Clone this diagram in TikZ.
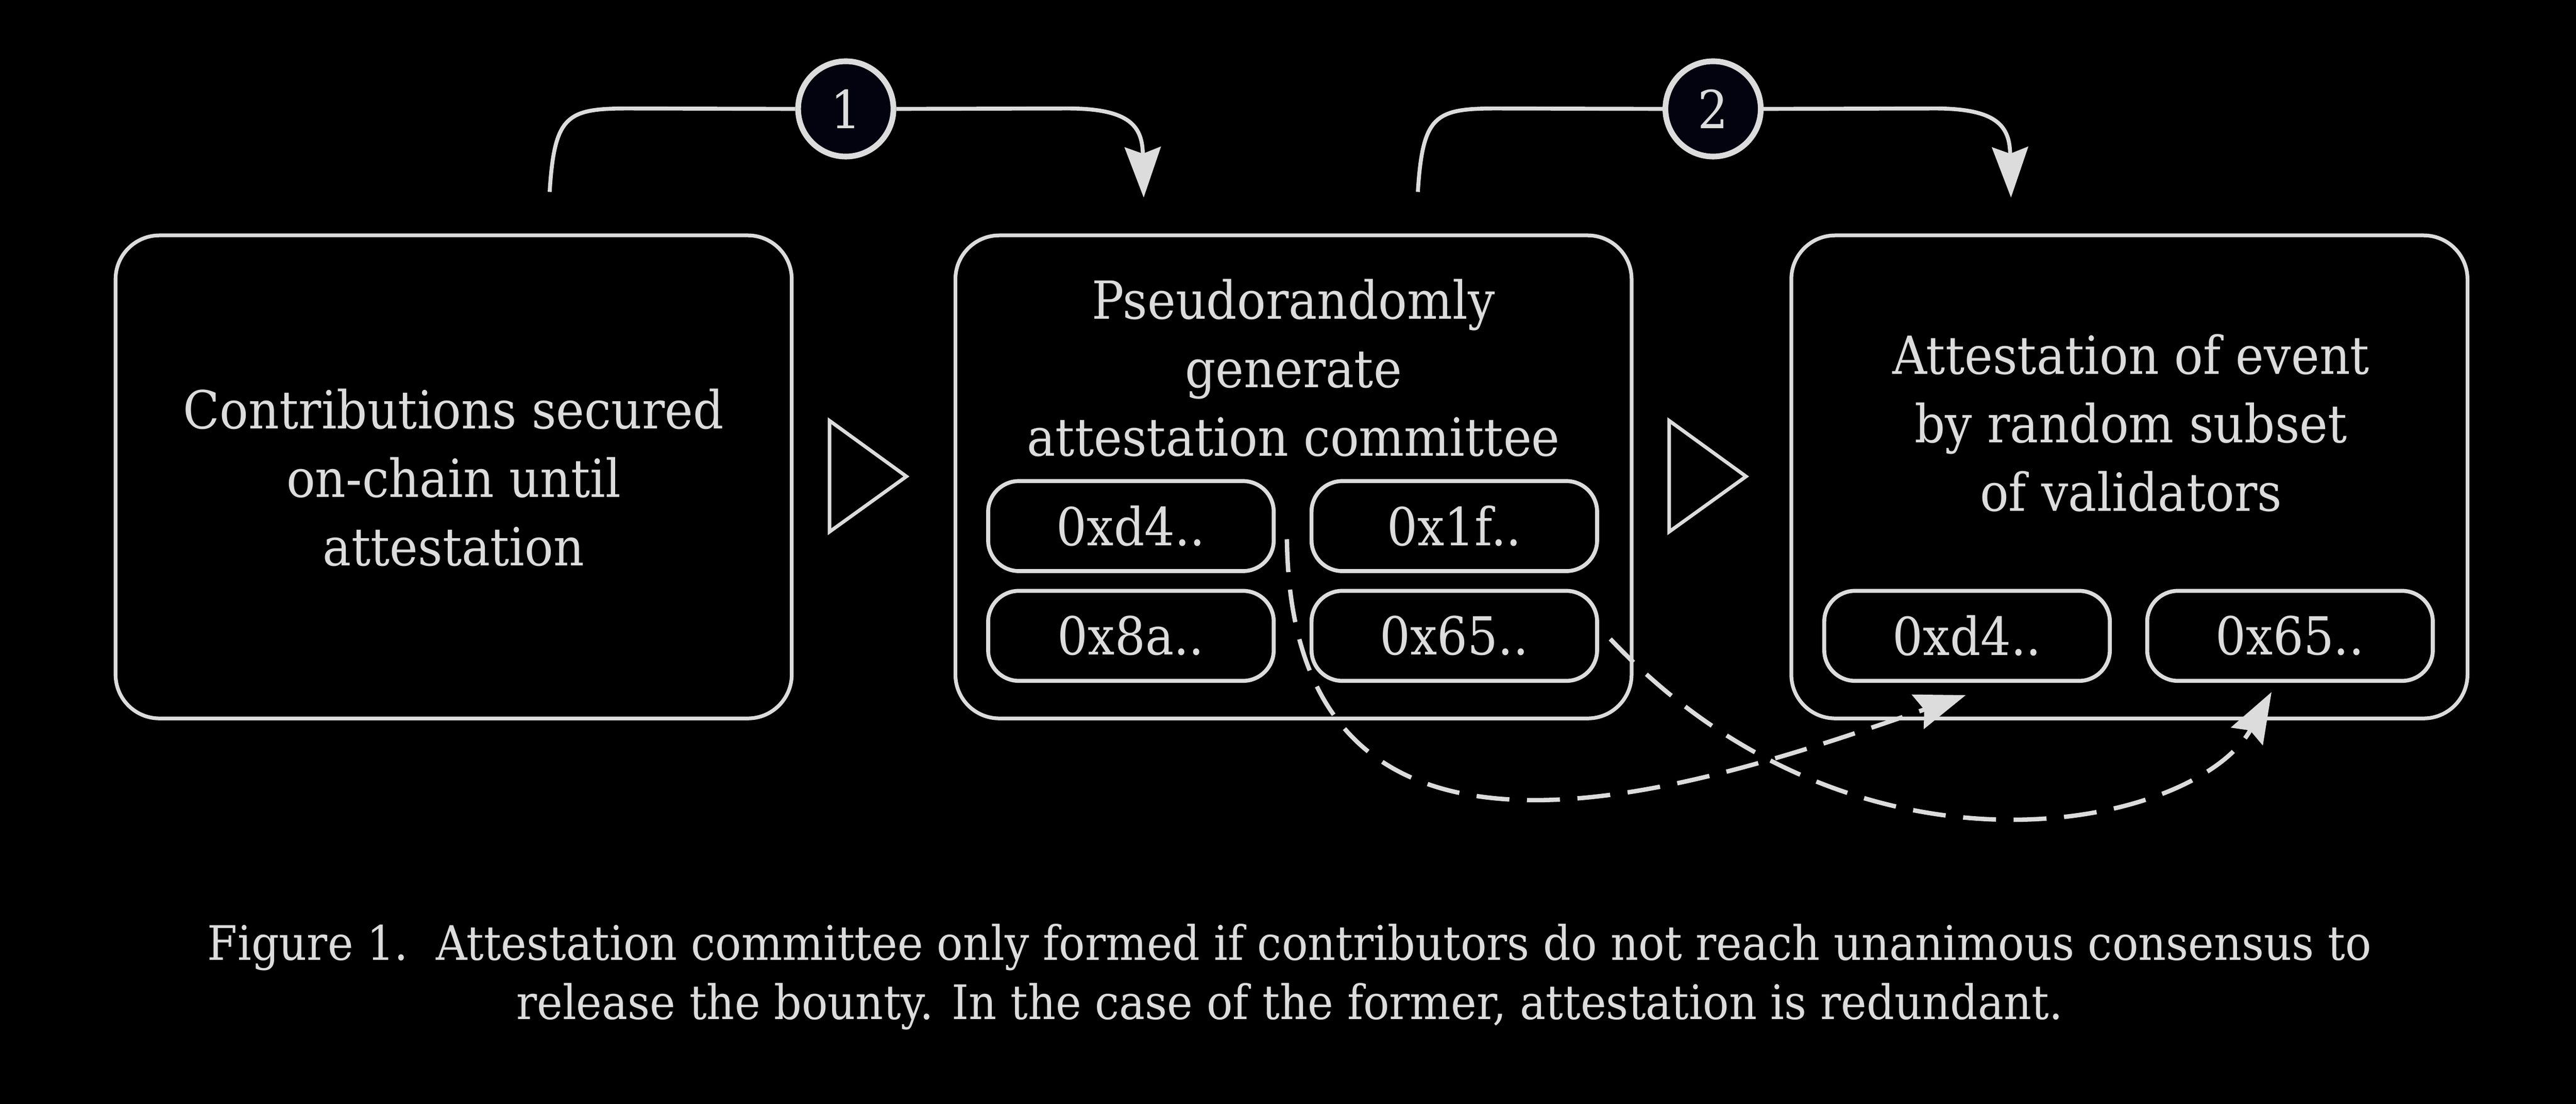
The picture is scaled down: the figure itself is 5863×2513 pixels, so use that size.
\documentclass[tikz,border=0pt]{standalone}
\usepackage{fontspec}
\setmainfont{DejaVu Serif}[FakeStretch=0.91]
\usetikzlibrary{arrows.meta}
\definecolor{fg}{HTML}{DCDCDC}
\definecolor{circfill}{HTML}{03030F}
\newcommand\diagfont{\fontsize{34}{44.4}\selectfont}
\newcommand\capfont{\fontsize{30.8}{38.4}\selectfont}
\tikzset{
 bigbox/.style={draw=fg, line width=0.85mm, rounded corners=10mm, minimum width=153.9mm, minimum height=110mm, inner sep=0pt},
 keybox/.style={draw=fg, line width=0.9mm, rounded corners=7mm, minimum width=65mm, minimum height=20.5mm, inner sep=0pt, text=fg, font=\diagfont},
 boxtext/.style={text=fg, align=center, font=\diagfont, inner sep=0pt},
 captext/.style={text=fg, align=center, font=\capfont, inner sep=0pt},
 stepnum/.style={circle, draw=fg, fill=circfill, line width=1.3mm, minimum size=21.7mm, inner sep=0pt, text=fg, font=\diagfont},
 tipshape/.style={-{Stealth[length=11.5mm,width=8.2mm,inset=1.5mm]}},
 flow/.style={draw=fg, line width=0.9mm},
 dashflow/.style={draw=fg, line width=1mm, dash pattern=on 7.5mm off 4mm},
 chevron/.style={draw=fg, line width=0.8mm, line join=miter},
}
\begin{document}
\begin{tikzpicture}[x=0.1mm,y=-0.1mm]
\useasboundingbox (0,0) rectangle (5863,2513);
\fill[black] (-40,-40) rectangle (5903,2553);

% main boxes
\node[bigbox] (A) at (1032.5,1086) {};
\node[bigbox] (B) at (2944,1086) {};
\node[bigbox] (C) at (4846.5,1086) {};

\node[boxtext] (tA) at (1032.5,1088) {Contributions secured\\on-chain until\\attestation};
\node[boxtext] (tB) at (2944,838) {Pseudorandomly\\generate\\attestation committee};
\node[boxtext] (tC) at (4850,963) {Attestation of event\\by random subset\\of validators};

% key boxes
\node[keybox] (b1) at (2574,1198) {0xd4..};
\node[keybox] (b2) at (3310,1198) {0x1f..};
\node[keybox] (b3) at (2574,1448) {0x8a..};
\node[keybox] (b4) at (3310,1448) {0x65..};
\node[keybox] (c1) at (4477,1448) {0xd4..};
\node[keybox] (c2) at (5212,1448) {0x65..};

% chevrons between boxes
\draw[chevron] (1888,958) -- (2063,1085) -- (1888,1211) -- cycle;
\draw[chevron] (3799,958) -- (3974,1085) -- (3799,1211) -- cycle;

% top step arrows
\coordinate (s1) at (1251,437);
\coordinate (e1) at (2603,450);
\coordinate (s2) at (3227,437);
\coordinate (e2) at (4577,450);
\node[stepnum] (n1) at (1925,248) {1};
\node[stepnum] (n2) at (3899,248) {2};
\draw[flow] (s1) .. controls (1262,262) and (1290,247) .. (1430,247) -- (n1.west);
\draw[flow,tipshape] (n1.east) -- (2430,247) .. controls (2575,247) and (2600,290) .. (e1);
\draw[flow] (s2) .. controls (3238,262) and (3266,247) .. (3406,247) -- (n2.west);
\draw[flow,tipshape] (n2.east) -- (4404,247) .. controls (4549,247) and (4574,290) .. (e2);

% dashed selections
\coordinate (d1s) at (2929,1228);
\coordinate (d1e) at (4474,1583);
\coordinate (d2s) at (3665,1455);
\coordinate (d2e) at (5170,1576);
\draw[dashflow,tipshape] (d1s) .. controls (2940,2110) and (3850,1800) .. (d1e);
\draw[dashflow,tipshape] (d2s) .. controls (4231,2054) and (4998,1885) .. (d2e);

% caption
\node[captext] (cap) at (2935,2225) {Figure 1.\ \ Attestation committee only formed if contributors do not reach unanimous consensus to\\release the bounty. In the case of the former, attestation is redundant.};
\end{tikzpicture}
\end{document}
